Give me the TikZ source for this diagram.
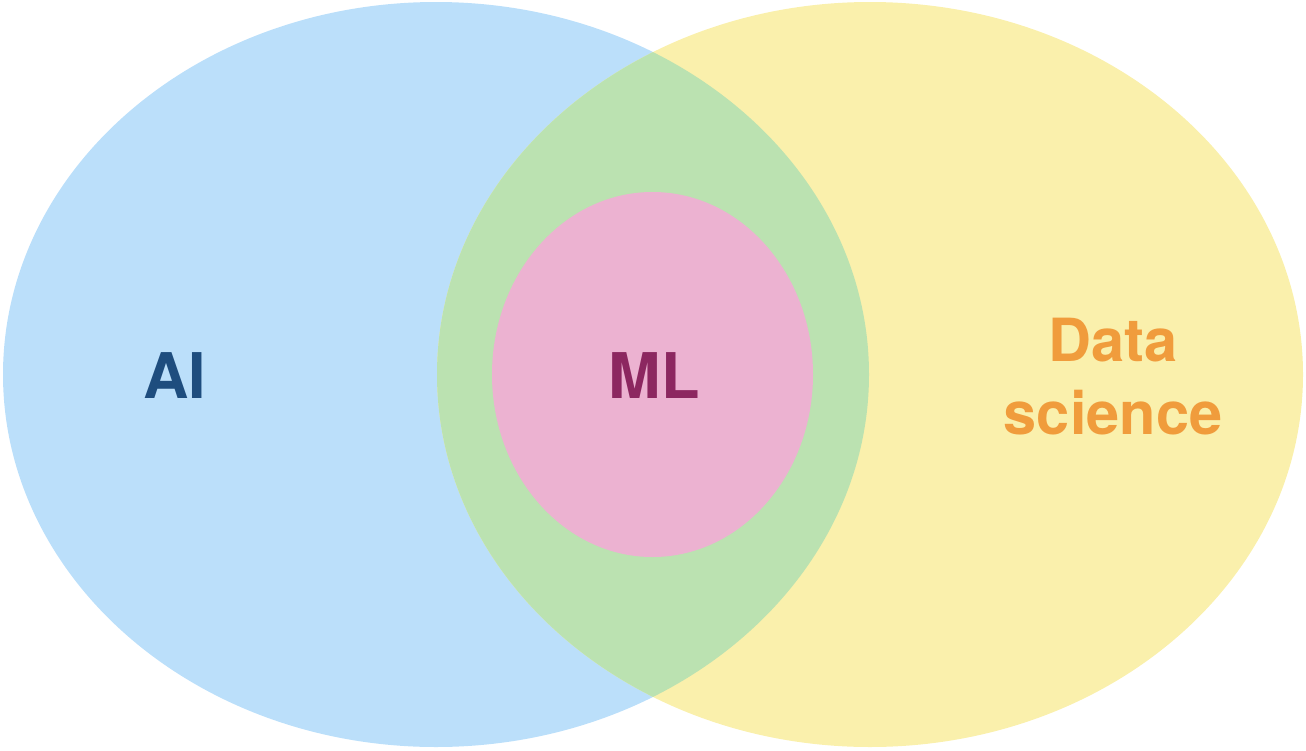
\documentclass[tikz,border=0pt]{standalone}
\usepackage{fontspec}
\setmainfont{TeX Gyre Heros}
\definecolor{aiblue}{HTML}{BBDFFA}
\definecolor{dsyellow}{HTML}{FAF0AC}
\definecolor{ovgreen}{HTML}{BBE2B1}
\definecolor{mlpink}{HTML}{ECB2D1}
\definecolor{aitext}{HTML}{1E4D7E}
\definecolor{mltext}{HTML}{8C2760}
\definecolor{dstext}{HTML}{F09C3C}
\begin{document}
\begin{tikzpicture}[x=1pt,y=-1pt,
  lbl/.style={font=\bfseries, inner sep=0pt, align=center}]
\useasboundingbox (0,0) rectangle (1306,750);
\fill[aiblue] (436,374.5) ellipse [x radius=433, y radius=372.5];
\fill[dsyellow] (870,374.5) ellipse [x radius=433, y radius=372.5];
\begin{scope}
  \clip (436,374.5) ellipse [x radius=433, y radius=372.5];
  \fill[ovgreen] (870,374.5) ellipse [x radius=433, y radius=372.5];
\end{scope}
\fill[mlpink] (652.5,374.5) ellipse [x radius=160.5, y radius=182.5];
\node[lbl, text=aitext, font=\fontsize{63}{73}\selectfont\bfseries] (ai) at (175,376) {AI};
\node[lbl, text=mltext, font=\fontsize{63}{73}\selectfont\bfseries] (ml) at (654,376) {ML};
\node[lbl, text=dstext, font=\fontsize{59.5}{73}\selectfont\bfseries] (ds) at (1113,377) {Data\\science};
\end{tikzpicture}
\end{document}
